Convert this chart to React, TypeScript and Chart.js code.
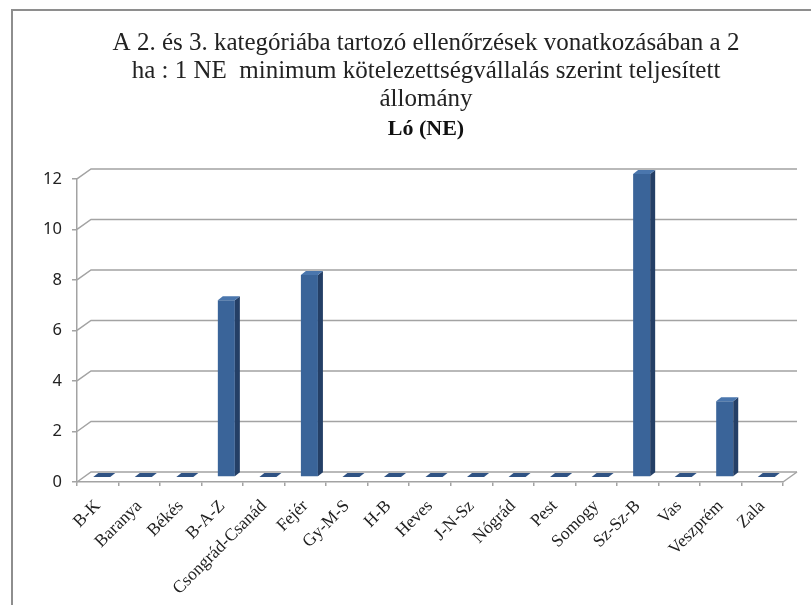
import React, { useEffect, useRef } from "react";
import { Chart, registerables } from "chart.js";

Chart.register(...registerables);

const categories = [
  "B-K", "Baranya", "Békés", "B-A-Z", "Csongrád-Csanád", "Fejér", "Gy-M-S", "H-B",
  "Heves", "J-N-Sz", "Nógrád", "Pest", "Somogy", "Sz-Sz-B", "Vas", "Veszprém", "Zala",
];
const values = [0, 0, 0, 7, 0, 8, 0, 0, 0, 0, 0, 0, 0, 12, 0, 3, 0];
const titleLines = [
  "A 2. és 3. kategóriába tartozó ellenőrzések vonatkozásában a 2",
  "ha : 1 NE  minimum kötelezettségvállalás szerint teljesített",
  "állomány",
];
const subtitleText = "Ló (NE)";
const yMin = 0;
const yMax = 12;
const yStep = 2;

const GRID = "#a3a3a3";
const FRONT = "#3a6499";
const SIDE = "#243f66";
const TOP = "#4a76ad";
const WALL = { dx: 14, dy: -10 };
const SHIFT = { dx: 4, dy: -5 };
const BAR = { dx: 5, dy: -4 };

const threeD = {
  id: "threeD",
  beforeDatasetsDraw(chart: any) {
    const { ctx, chartArea, scales } = chart;
    const y = scales.y;
    ctx.save();
    ctx.strokeStyle = GRID;
    ctx.lineWidth = 1.5;
    y.ticks.forEach((t: any) => {
      const py = y.getPixelForValue(t.value);
      ctx.beginPath();
      ctx.moveTo(chartArea.left, py);
      ctx.lineTo(chartArea.left + WALL.dx, py + WALL.dy);
      ctx.lineTo(chartArea.right + WALL.dx, py + WALL.dy);
      ctx.stroke();
    });
    const by = y.getPixelForValue(0);
    ctx.beginPath();
    ctx.moveTo(chartArea.right, by);
    ctx.lineTo(chartArea.right + WALL.dx, by + WALL.dy);
    ctx.stroke();
    ctx.restore();
    ctx.save();
    ctx.translate(SHIFT.dx, SHIFT.dy);
  },
  afterDatasetsDraw(chart: any) {
    const { ctx } = chart;
    const meta = chart.getDatasetMeta(0);
    meta.data.forEach((el: any) => {
      const { x, y, base, width } = el.getProps(["x", "y", "base", "width"], true);
      const l = x - width / 2;
      const r = x + width / 2;
      if (base - y > 0.5) {
        ctx.fillStyle = SIDE;
        ctx.beginPath();
        ctx.moveTo(r, y);
        ctx.lineTo(r + BAR.dx, y + BAR.dy);
        ctx.lineTo(r + BAR.dx, base + BAR.dy);
        ctx.lineTo(r, base);
        ctx.closePath();
        ctx.fill();
      }
      ctx.fillStyle = base - y > 0.5 ? TOP : "#2f5283";
      ctx.beginPath();
      ctx.moveTo(l, y);
      ctx.lineTo(r, y);
      ctx.lineTo(r + BAR.dx, y + BAR.dy);
      ctx.lineTo(l + BAR.dx, y + BAR.dy);
      ctx.closePath();
      ctx.fill();
    });
    ctx.restore();
  },
};

export default function App() {
  const ref = useRef<HTMLCanvasElement>(null);
  useEffect(() => {
    if (!ref.current) return;
    const chart = new Chart(ref.current, {
      type: "bar",
      data: {
        labels: categories,
        datasets: [
          {
            data: values,
            backgroundColor: FRONT,
            borderWidth: 0,
            categoryPercentage: 1,
            barPercentage: 0.41,
            clip: false as any,
          },
        ],
      },
      options: {
        responsive: false,
        animation: false,
        layout: { padding: { left: 0, right: 0, top: 0, bottom: 0 } },
        plugins: {
          legend: { display: false },
          tooltip: { enabled: false },
          title: {
            display: true,
            text: titleLines,
            color: "#222",
            font: { family: "'Liberation Serif', serif", size: 25, weight: "normal", lineHeight: 1.12 },
            padding: { top: 19, bottom: 0 },
          },
          subtitle: {
            display: true,
            text: subtitleText,
            color: "#111",
            font: { family: "'Liberation Serif', serif", size: 22, weight: "bold", lineHeight: 1.27 },
            padding: { top: 2, bottom: 36 },
          },
        },
        scales: {
          x: {
            afterFit: (s: any) => {
              s.height = 123;
            },
            grid: { offset: true, drawOnChartArea: false, tickLength: 4, color: GRID, lineWidth: 1.5 },
            border: { color: GRID, width: 1.5 },
            ticks: {
              minRotation: 45,
              maxRotation: 45,
              autoSkip: false,
              padding: 10,
              color: "#222",
              font: { family: "'Liberation Serif', serif", size: 17.5 },
            },
          },
          y: {
            min: yMin,
            max: yMax,
            afterFit: (s: any) => {
              s.width = 65;
            },
            grid: { drawOnChartArea: false, tickLength: 5, color: GRID, lineWidth: 1.5 },
            border: { color: GRID, width: 1.5 },
            ticks: {
              stepSize: yStep,
              padding: 10,
              color: "#222",
              font: { family: "'Noto Sans', sans-serif", size: 16.5 },
            },
          },
          spacer: {
            type: "linear",
            position: "right",
            display: true,
            afterFit: (s: any) => {
              s.width = 57;
            },
            grid: { display: false },
            border: { display: false },
            ticks: { display: false },
          },
        },
      },
      plugins: [threeD],
    });
    return () => chart.destroy();
  }, []);
  return (
    <div style={{ position: "fixed", left: 0, top: 0, width: 811, height: 605, overflow: "hidden", background: "#fff" }}>
      <div
        style={{
          position: "absolute",
          left: 11,
          top: 9,
          width: 1000,
          height: 1000,
          borderLeft: "2px solid #8e8e8e",
          borderTop: "2px solid #8e8e8e",
        }}
      />
      <canvas ref={ref} width={828} height={595} style={{ position: "absolute", left: 12, top: 10 }} />
    </div>
  );
}
